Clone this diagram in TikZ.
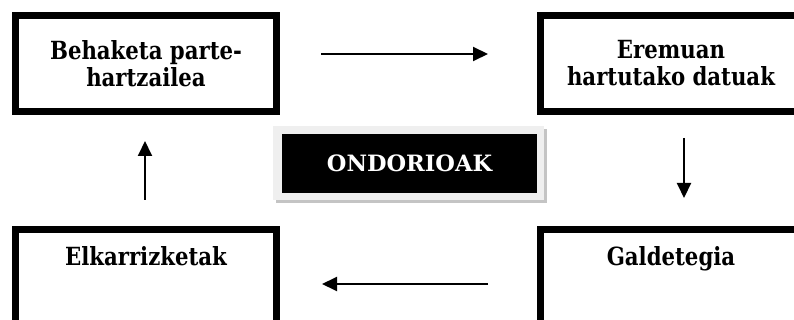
\documentclass[tikz,border=0pt]{standalone}
\usepackage{fontspec}
\setmainfont{DejaVu Serif}[FakeStretch=0.85]
\newfontfamily\titlefont{DejaVu Serif}
\usetikzlibrary{arrows.meta,backgrounds}
\definecolor{framegray}{HTML}{EFEFEF}
\definecolor{shadowgray}{HTML}{C4C4C4}
\tikzset{
  txt/.style={font=\bfseries\fontsize{25}{27}\selectfont},
  box/.style={draw=black, line width=7pt, fill=white, minimum width=261pt, minimum height=96pt, inner sep=0pt, align=center, txt},
  lbl/.style={inner sep=0pt, txt},
  flow/.style={line width=2pt, -{Triangle[length=15pt,width=14pt]}},
  center/.style={fill=black, text=white, minimum width=255pt, minimum height=59pt, inner sep=0pt, font=\titlefont\bfseries\fontsize{22.5}{27}\selectfont}
}
\begin{document}
\begin{tikzpicture}[x=1pt,y=-1pt]
\useasboundingbox (0,0) rectangle (794,320);
\clip (0,0) rectangle (794,320);
% boxes
\node[box] (b1) at (146,63.5) {Behaketa parte-\\hartzailea};
\node[box] (b2) at (671,63.5) {Eremuan\\hartutako datuak};
\node[box] (b3) at (146,277.5) {};
\node[box] (b4) at (671,277.5) {};
\node[lbl, anchor=base] (t3) at ([yshift=-39pt]b3.north) {Elkarrizketak};
\node[lbl, anchor=base] (t4) at ([yshift=-39pt]b4.north) {Galdetegia};
% centre
\node[center] (c) at (409.5,163.5) {ONDORIOAK};
\begin{scope}[on background layer]
\fill[white] (0,0) rectangle (794,320);
\fill[shadowgray] ([xshift=-6pt,yshift=5pt]c.north west) rectangle ([xshift=10pt,yshift=-10pt]c.south east);
\fill[framegray] ([xshift=-9pt,yshift=8pt]c.north west) rectangle ([xshift=7pt,yshift=-7pt]c.south east);
\end{scope}
% arrows
\coordinate (a1s) at (321,54);
\coordinate (a1e) at (488,54);
\coordinate (a2s) at (684,138);
\coordinate (a2e) at (684,198);
\coordinate (a3s) at (488,284);
\coordinate (a3e) at (322,284);
\coordinate (a4s) at (145,200);
\coordinate (a4e) at (145,141);
\draw[flow] (a1s) -- (a1e);
\draw[flow] (a2s) -- (a2e);
\draw[flow] (a3s) -- (a3e);
\draw[flow] (a4s) -- (a4e);
\end{tikzpicture}
\end{document}
